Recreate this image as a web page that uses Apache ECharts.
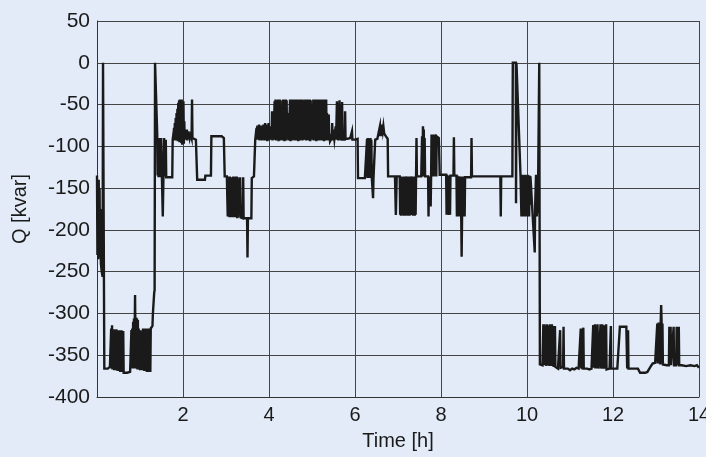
<!DOCTYPE html>
<html><head><meta charset="utf-8">
<script src="https://cdn.jsdelivr.net/npm/echarts@6/dist/echarts.min.js"></script>
<style>html,body{margin:0;padding:0;background:#e2ebf7}#c{width:706px;height:457px}</style>
</head><body><div id="c"></div>
<script>
// Time [h], Q [kvar] pairs, split by period
const qStart = [[0,-135],[0.01,-230],[0.02,-140],[0.03,-235],[0.04,-140],[0.05,-225],[0.06,-150],[0.07,-232],[0.08,-175],[0.09,-240],[0.11,-250],[0.13,-256],[0.14,0],[0.155,0],[0.17,-366],[0.2,-365],[0.25,-366],[0.3,-364],[0.32,-365],
[0.33,-318],[0.34,-366],[0.35,-314],[0.36,-367],[0.37,-320],[0.38,-366],[0.39,-319],[0.40,-368],[0.41,-320],[0.42,-367],[0.43,-321],[0.44,-368],[0.45,-319],[0.46,-368],[0.47,-320],[0.48,-369],[0.49,-320],[0.50,-368],[0.51,-321],[0.52,-369],[0.53,-320],[0.54,-370],[0.55,-321],[0.56,-369],[0.57,-320],[0.58,-370],[0.59,-322],[0.60,-370],[0.61,-321],[0.62,-371],
[0.66,-369],[0.70,-371],[0.74,-373],[0.77,-370],[0.79,-368],
[0.80,-320],[0.81,-366],[0.82,-318],[0.83,-366],[0.84,-310],[0.85,-365],[0.86,-306],[0.87,-366],[0.88,-304],[0.885,-278],[0.89,-306],[0.90,-365],[0.91,-305],[0.92,-366],[0.93,-306],[0.94,-367],[0.95,-308],[0.96,-366],[0.97,-318],[0.98,-367],[0.99,-320],[1.00,-368],[1.01,-320],[1.03,-368],[1.05,-368],
[1.07,-318],[1.08,-368],[1.09,-318],[1.10,-369],[1.11,-319],[1.12,-368],[1.13,-318],[1.14,-369],[1.15,-319],[1.16,-370],[1.17,-318],[1.18,-369],[1.19,-319],[1.20,-370],[1.21,-318],[1.22,-369],[1.23,-318],[1.24,-370],[1.25,-318],[1.27,-318],[1.29,-315],[1.30,-300],[1.31,-298],[1.32,-298],[1.33,-275],[1.34,-272]];

const qMorning = [[1.35,0],[1.375,0],[1.40,-84],[1.41,-135],[1.42,-90],[1.43,-137],[1.45,-90],[1.47,-137],[1.49,-90],[1.51,-138],[1.53,-184],[1.545,-137],[1.56,-90],[1.58,-136],[1.60,-92],[1.61,-137],[1.65,-137],[1.70,-137],[1.75,-137],[1.76,-92],
[1.77,-88],[1.78,-92],[1.79,-78],[1.80,-93],[1.81,-72],[1.82,-92],[1.83,-66],[1.84,-93],[1.85,-60],[1.86,-92],[1.87,-55],[1.88,-94],[1.89,-48],[1.90,-92],[1.91,-45],[1.92,-95],[1.93,-44],[1.94,-93],[1.95,-50],[1.96,-96],[1.97,-44],[1.98,-98],[1.99,-55],[2.00,-95],[2.01,-46],[2.02,-97],[2.03,-70],[2.04,-92],
[2.05,-80],[2.06,-92],[2.07,-82],[2.08,-90],[2.09,-80],[2.10,-93],[2.11,-84],[2.12,-90],[2.13,-82],[2.14,-91],[2.15,-85],[2.16,-90],[2.18,-86],[2.20,-90],[2.21,-44],[2.22,-90],[2.25,-92],[2.30,-92],[2.32,-93],[2.33,-140],
[2.51,-140],[2.52,-135],[2.65,-135],[2.66,-88],[2.90,-88],[2.93,-86],[2.95,-90],[2.97,-136],[3.02,-136],
[3.04,-184],[3.05,-136],[3.06,-184],[3.07,-138],[3.08,-185],[3.09,-136],[3.10,-184],[3.11,-140],[3.12,-185],[3.13,-137],[3.14,-184],[3.15,-138],[3.16,-185],[3.17,-136],[3.18,-184],[3.19,-137],[3.20,-185],[3.21,-136],[3.22,-184],[3.23,-137],[3.24,-185],[3.25,-136],[3.26,-186],[3.27,-137],[3.28,-185],[3.30,-185],[3.32,-184],[3.33,-137],[3.34,-185],[3.37,-186],[3.39,-186],[3.40,-137],[3.41,-186],[3.45,-187],[3.49,-186],[3.50,-233],[3.51,-186],[3.55,-187],[3.59,-186],[3.60,-138],[3.65,-136],[3.68,-92]];

const qMidday = [[3.70,-90],[3.71,-78],[3.72,-92],[3.73,-75],[3.74,-91],[3.75,-80],[3.76,-92],[3.77,-74],[3.78,-93],[3.79,-76],[3.80,-92],[3.81,-82],[3.82,-91],[3.83,-75],[3.84,-93],
[3.85,-80],[3.86,-92],[3.87,-74],[3.88,-91],[3.89,-78],[3.90,-93],[3.91,-72],[3.92,-92],[3.93,-76],[3.94,-91],[3.95,-74],[3.96,-94],[3.97,-80],[3.98,-92],[3.99,-72],[4.00,-93],[4.01,-78],[4.02,-92],[4.04,-90],[4.05,-76],[4.06,-92],[4.07,-58],[4.08,-93],[4.10,-80],[4.11,-92],
[4.13,-46],[4.14,-92],[4.15,-44],[4.16,-93],[4.17,-45],[4.18,-91],[4.19,-60],[4.20,-92],[4.21,-44],[4.22,-94],[4.23,-46],[4.24,-92],[4.25,-44],[4.26,-93],[4.27,-52],[4.28,-91],[4.29,-70],[4.30,-92],[4.31,-45],[4.32,-93],[4.33,-44],[4.34,-92],[4.35,-44],[4.36,-94],[4.37,-48],[4.38,-92],[4.39,-44],[4.40,-93],[4.41,-45],[4.42,-91],[4.44,-92],[4.45,-60],[4.46,-93],[4.48,-92],[4.49,-44],[4.50,-94],[4.51,-46],[4.52,-92],[4.53,-44],[4.54,-93],[4.55,-45],[4.56,-92],[4.57,-44],[4.58,-91],[4.59,-44],[4.60,-93],[4.61,-66],[4.62,-92],[4.63,-44],[4.64,-93],[4.65,-45],[4.66,-92],[4.67,-44],[4.68,-94],[4.69,-46],[4.70,-92],[4.71,-44],[4.72,-93],[4.73,-50],[4.74,-92],[4.75,-44],[4.76,-91],[4.77,-44],[4.78,-93],[4.79,-45],[4.80,-92],[4.82,-94],[4.83,-44],[4.84,-92],[4.85,-44],[4.86,-93],[4.87,-45],[4.88,-92],[4.89,-44],[4.90,-91],[4.91,-47],[4.92,-93],[4.93,-44],[4.94,-92],[4.95,-44],[4.96,-94],[4.97,-45],[4.98,-92],[5.00,-93],[5.01,-72],[5.02,-92],[5.03,-44],[5.04,-93],[5.05,-45],[5.06,-91],[5.07,-44],[5.08,-92],[5.09,-46],[5.10,-94],[5.11,-44],[5.12,-92],[5.13,-44],[5.14,-93],[5.15,-45],[5.16,-92],[5.17,-44],[5.18,-93],[5.19,-48],[5.20,-92],[5.21,-44],[5.22,-91],[5.23,-62],[5.24,-93],[5.25,-44],[5.26,-92],[5.27,-45],[5.28,-94],[5.29,-44],[5.30,-92],[5.31,-46],[5.32,-93],[5.33,-44],[5.34,-92],
[5.35,-60],[5.36,-91],[5.37,-80],[5.38,-93],[5.39,-62],[5.40,-92],[5.41,-85],[5.42,-94],[5.44,-92],[5.46,-90],
[5.47,-72],[5.48,-93],[5.49,-80],[5.50,-92],[5.51,-86],[5.52,-91],[5.54,-93],[5.55,-76],[5.56,-92],
[5.58,-46],[5.59,-92],[5.60,-48],[5.61,-93],[5.62,-86],[5.63,-92],[5.64,-45],[5.65,-91],[5.66,-50],[5.67,-93],[5.68,-80],[5.69,-92],[5.70,-47],[5.71,-92],
[5.73,-91],[5.76,-92],[5.77,-58],[5.78,-91],[5.80,-92],[5.83,-91],[5.86,-92],[5.89,-90],[5.92,-91],[5.93,-82],[5.94,-92],[6.00,-92],[6.06,-91],[6.07,-138],[6.23,-138]];

const qAfternoon = [[6.27,-138],[6.28,-91],[6.29,-138],[6.30,-90],[6.31,-138],[6.32,-91],[6.33,-137],[6.34,-91],[6.35,-138],[6.36,-90],[6.37,-138],[6.38,-92],[6.39,-137],[6.41,-138],[6.42,-162],[6.43,-138],[6.46,-138],[6.47,-92],[6.52,-91],[6.56,-90],[6.58,-76],[6.59,-88],[6.60,-74],[6.61,-86],[6.62,-75],[6.63,-88],[6.64,-74],[6.65,-80],[6.66,-76],[6.68,-85],[6.70,-86],[6.72,-88],[6.74,-90],[6.76,-91],[6.77,-136],
[6.93,-136],[6.95,-182],[6.97,-136],[7.04,-136],
[7.05,-182],[7.06,-136],[7.07,-183],[7.08,-136],[7.09,-182],[7.10,-137],[7.12,-136],[7.13,-183],[7.14,-136],[7.15,-182],[7.16,-137],[7.17,-183],[7.18,-136],[7.20,-136],[7.21,-182],[7.22,-136],[7.23,-183],[7.24,-137],[7.25,-182],[7.26,-136],[7.27,-183],[7.28,-137],[7.29,-182],[7.30,-136],[7.32,-136],[7.33,-182],[7.34,-136],[7.35,-183],[7.36,-137],[7.37,-182],[7.38,-136],[7.39,-183],[7.40,-136],[7.41,-182],[7.42,-136],[7.43,-90],[7.44,-136],[7.48,-136],[7.54,-136],
[7.56,-88],[7.57,-136],[7.58,-76],[7.59,-90],[7.60,-80],[7.61,-136],[7.62,-90],[7.63,-136],[7.70,-136],[7.71,-184],[7.72,-136],[7.75,-136],[7.76,-172],[7.77,-136],
[7.78,-86],[7.79,-136],[7.80,-87],[7.81,-134],[7.82,-86],[7.83,-136],[7.84,-88],[7.85,-135],[7.86,-86],[7.87,-130],[7.88,-86],[7.89,-136],[7.90,-88],[7.91,-90],[7.93,-88],[7.95,-90],[7.97,-134],
[8.12,-134],[8.13,-182],[8.14,-134],[8.17,-134],[8.18,-182],[8.19,-135],[8.21,-182],[8.22,-135],[8.29,-135],[8.30,-89],[8.31,-135],[8.36,-135],[8.37,-184],[8.38,-135],[8.40,-135],[8.41,-184],[8.42,-136],[8.44,-136],[8.45,-184],[8.46,-136],[8.47,-184],[8.48,-232],[8.49,-184],[8.50,-136],[8.52,-184],[8.53,-136],[8.55,-184],[8.56,-137],[8.70,-137],[8.71,-90],[8.72,-136],[9.38,-136],[9.39,-184],[9.40,-136],[9.66,-136]];

const qEvening = [[9.67,0],[9.74,0],[9.745,-168],[9.755,0],[9.77,0],[9.85,-136],
[9.87,-184],[9.88,-136],[9.89,-184],[9.90,-134],[9.91,-183],[9.92,-136],[9.93,-184],[9.94,-135],[9.95,-182],[9.96,-134],[9.97,-184],[9.98,-136],[9.99,-183],[10.00,-135],[10.01,-184],[10.02,-134],[10.03,-182],[10.04,-136],[10.05,-184],[10.06,-135],[10.07,-170],[10.08,-136],[10.10,-134],[10.18,-227],[10.19,-170],[10.21,-134],[10.23,-184],[10.24,-136],[10.25,-180],[10.26,-136],[10.285,0],[10.30,-361]];

const qNight = [[10.33,-362],[10.36,-362],
[10.38,-313],[10.39,-362],[10.41,-313],[10.42,-362],[10.44,-315],[10.45,-363],[10.47,-313],[10.48,-362],[10.50,-363],[10.51,-314],[10.52,-363],[10.54,-313],[10.55,-362],[10.56,-314],[10.57,-363],[10.58,-313],[10.59,-362],[10.61,-315],[10.62,-364],[10.64,-363],[10.65,-315],[10.66,-364],[10.68,-365],[10.70,-364],[10.72,-366],[10.74,-365],[10.76,-364],[10.77,-320],[10.78,-365],[10.80,-366],[10.84,-364],[10.85,-316],[10.86,-366],[10.90,-367],[10.95,-366],[11.0,-368],[11.05,-366],[11.10,-367],[11.15,-365],[11.20,-366],[11.24,-367],[11.25,-318],[11.26,-366],[11.28,-318],[11.29,-367],[11.31,-317],[11.32,-366],[11.36,-367],[11.40,-366],[11.45,-367],[11.50,-366],[11.53,-366],[11.54,-314],[11.55,-365],[11.58,-313],[11.59,-366],[11.61,-314],[11.62,-366],[11.64,-313],[11.65,-314],[11.66,-366],[11.70,-365],[11.71,-313],[11.72,-366],[11.75,-313],[11.76,-366],[11.80,-314],[11.81,-366],[11.84,-313],[11.85,-367],[11.88,-366],[11.92,-366],[11.95,-315],[11.96,-366],[12.00,-367],[12.05,-366],[12.10,-366],[12.14,-367],[12.16,-316],[12.31,-316],[12.33,-366],[12.35,-320],[12.36,-366],[12.40,-367],[12.50,-366],[12.58,-366],[12.63,-371],[12.75,-371],[12.80,-370],[12.87,-364],[12.92,-360],[12.98,-359],[13.02,-360],[13.03,-312],[13.04,-360],[13.06,-311],[13.07,-360],[13.09,-312],[13.10,-361],[13.11,-310],[13.12,-290],[13.13,-311],[13.14,-360],[13.15,-312],[13.16,-361],[13.20,-362],[13.25,-362],[13.30,-362],[13.31,-316],[13.32,-362],[13.34,-316],[13.35,-362],[13.39,-362],[13.41,-316],[13.42,-362],[13.47,-362],[13.48,-316],[13.49,-362],[13.52,-362],[13.53,-316],[13.54,-362],[13.60,-362],[13.70,-363],[13.80,-362],[13.90,-363],[13.95,-362],[14.0,-365]];

const xRange = [0, 14], xStep = 2;
const yRange = [-400, 50], yStep = 50;

const data = [].concat(qStart, qMorning, qMidday, qAfternoon, qEvening, qNight);
const font = "'Liberation Sans', Arial, sans-serif";
const chart = echarts.init(document.getElementById('c'), null, {renderer: 'canvas'});
chart.setOption({
  backgroundColor: '#e2ebf7',
  animation: false,
  grid: {left: 97, right: 7, top: 21, bottom: 60, containLabel: false, outerBoundsMode: 'none'},
  xAxis: {
    type: 'value', min: xRange[0], max: xRange[1], interval: xStep,
    name: 'Time [h]', nameLocation: 'middle', nameGap: 34,
    nameTextStyle: {fontFamily: font, fontSize: 20, color: '#1a1a1a'},
    axisLine: {onZero: false, lineStyle: {color: '#333', width: 1}},
    axisTick: {show: false},
    axisLabel: {showMinLabel: false, margin: 8, fontFamily: font, fontSize: 20, color: '#1a1a1a'},
    splitLine: {show: true, lineStyle: {color: '#444', width: 1}}
  },
  yAxis: {
    type: 'value', min: yRange[0], max: yRange[1], interval: yStep,
    name: 'Q [kvar]', nameLocation: 'middle', nameGap: 67, nameRotate: 90,
    nameTextStyle: {fontFamily: font, fontSize: 20, color: '#1a1a1a'},
    axisLine: {show: true, onZero: false, lineStyle: {color: '#333', width: 1}},
    axisTick: {show: false},
    axisLabel: {margin: 7, fontFamily: font, fontSize: 21, color: '#1a1a1a'},
    splitLine: {show: true, lineStyle: {color: '#444', width: 1}}
  },
  series: [{
    type: 'line', data: data, symbol: 'none', showSymbol: false,
    sampling: null, clip: true,
    lineStyle: {color: '#1a1a1a', width: 2.4, join: 'miter'}
  }]
});
</script>
</body></html>
